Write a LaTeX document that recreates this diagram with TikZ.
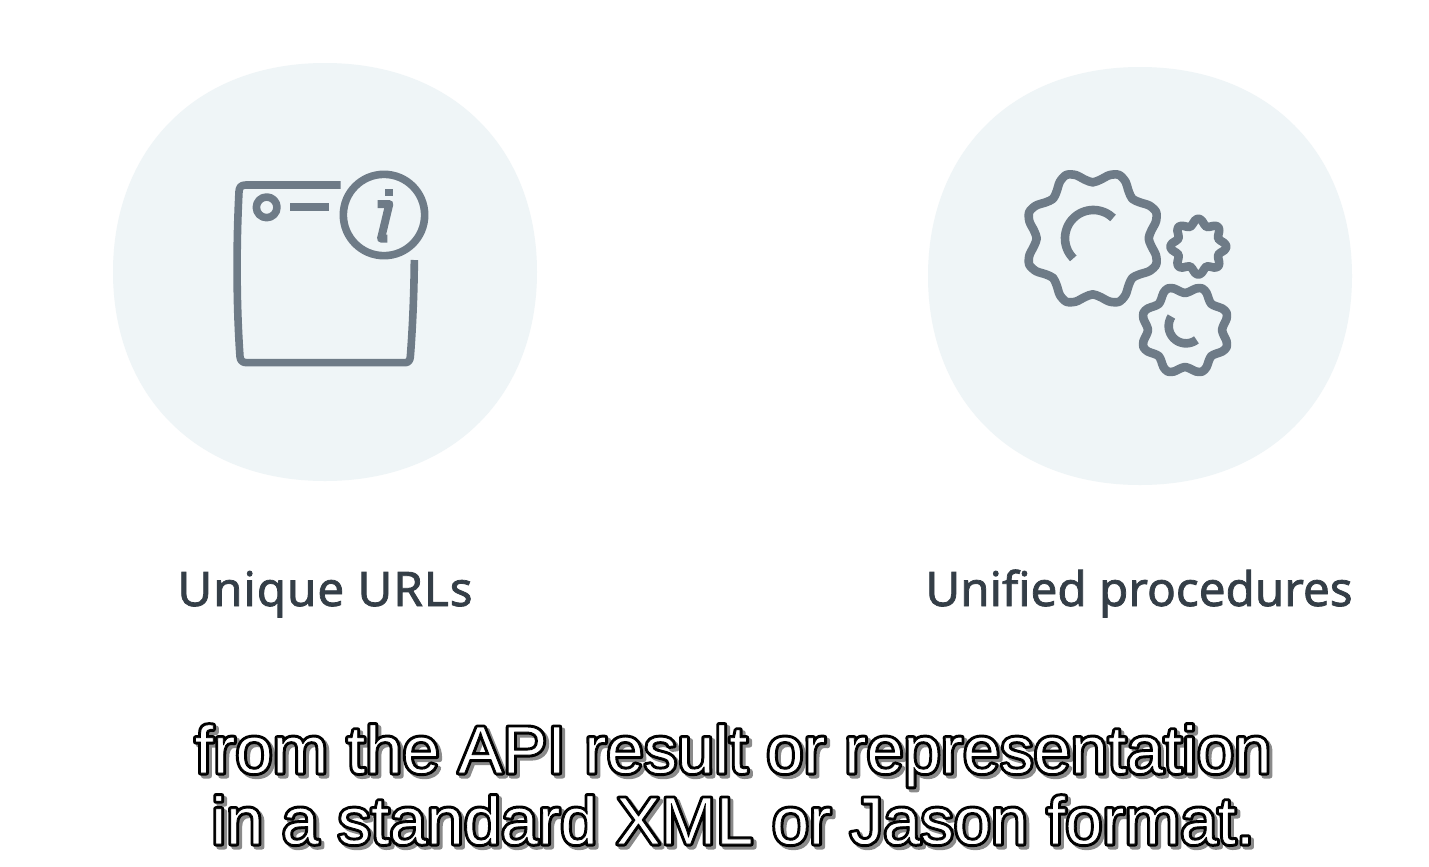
\documentclass[tikz,border=0pt]{standalone}
\usepackage{fontspec}
\setmainfont{Liberation Sans}
\newfontfamily\labelfont[FakeBold=1.6]{Noto Sans}
\newfontfamily\labelfontwide[FakeBold=1.6,LetterSpace=2]{Noto Sans}
\newfontfamily\subfontA[FakeBold=7.5]{Liberation Sans}
\newfontfamily\subfontB[FakeBold=1.2]{Liberation Sans}
\definecolor{blob}{HTML}{EFF5F7}
\definecolor{icon}{HTML}{6E7B87}
\definecolor{labelink}{HTML}{343E47}
\definecolor{shade}{HTML}{8A8A8A}
\tikzset{
  x=0.5pt,y=-0.5pt,
  blobshape/.style={fill=blob,draw=none},
  iconline/.style={draw=icon,line width=3.8pt,line join=round},
  gearline/.style={iconline,line width=4.3pt},
  labeltext/.style={font=\labelfont\fontsize{23.8}{26}\selectfont,text=labelink,anchor=base,inner sep=0pt},
  labelwide/.style={labeltext,font=\labelfontwide\fontsize{23.8}{26}\selectfont},
  subbase/.style={font=\subfontA\fontsize{33.4}{36}\selectfont,anchor=base,inner sep=0pt},
  subtop/.style={font=\subfontB\fontsize{33.4}{36}\selectfont,anchor=base,inner sep=0pt,text=white},
  subedge/.style={subbase,text=black},
  subshade/.style={subbase,text=shade},
  zoomA/.style={shift={(210,150)},x=0.166667pt,y=-0.166667pt},
  zoomB/.style={shift={(1000,150)},x=0.166667pt,y=-0.166667pt},
}
\newcommand{\blob}[2]{% centre x, y
  \fill[blobshape,shift={(#1,#2)}] (-212,0)
    .. controls (-212,-122) and (-130,-209) .. (0,-209)
    .. controls (130,-209) and (212,-122) .. (212,0)
    .. controls (212,122) and (130,209) .. (0,209)
    .. controls (-130,209) and (-212,122) .. (-212,0) -- cycle;}
\newcommand{\gear}[6]{% cx cy R a lobes phase
  \draw[gearline] plot[smooth cycle,domain=0:352.5,samples=48,variable=\t]
    ({#1+(#3+#4*cos(#5*\t-#6))*cos(\t)},{#2-(#3+#4*cos(#5*\t-#6))*sin(\t)});}
\newcommand{\roundtext}[1]{\special{pdf:code 1 j 1 J}#1}
\newcommand{\subtext}[1]{\special{pdf:code 1 j 1 J 0 G}#1}
\begin{document}
\begin{tikzpicture}
\useasboundingbox (0,0) rectangle (1429,867);
\fill[white] (0,0) rectangle (1429,867);
\blob{325}{272}
\blob{1140}{276}
\begin{scope}[zoomA]
  \draw[iconline] (392,105) -- (108,105) .. controls (92,105) and (88,112) .. (87,125)
    .. controls (78,300) and (80,480) .. (90,620)
    .. controls (91,632) and (98,638) .. (110,638) -- (585,638)
    .. controls (596,638) and (600,630) .. (601,620)
    .. controls (608,530) and (612,430) .. (613,330);
  \draw[iconline] (522,195) circle[radius=122];
  \draw[iconline] (170,172) circle[radius=31];
  \draw[iconline,line width=4pt] (240,172) -- (358,172);
  \draw[iconline,line width=4pt] (503,162) -- (538,162) -- (513,266) -- (532,266);
  \fill[icon] (526,118) rectangle (548,139);
\end{scope}
\begin{scope}[zoomB]
  \gear{278}{265}{187}{19}{8}{180}
  \gear{595}{290}{74}{10}{8}{0}
  \gear{555}{540}{123}{12}{8}{180}
  \draw[gearline] plot[smooth,domain=46:225,samples=20,variable=\t] ({280+85*cos(\t)},{265-85*sin(\t)});
  \draw[gearline] plot[smooth,domain=147:307,samples=20,variable=\t] ({558+52*cos(\t)},{528-52*sin(\t)});
\end{scope}
\node[labelwide] (urls) at (325,606) {Unique URLs};
\node[labeltext] (procs) at (1139,606) {Unified procedures};
\node[subshade] (s1a) at (736,776) {\roundtext{from the API result or representation}};
\node[subshade] (s2a) at (736,847) {\roundtext{in a standard XML or Jason format.}};
\node[subedge] (s1b) at (733,773) {\roundtext{from the API result or representation}};
\node[subedge] (s2b) at (733,844) {\roundtext{in a standard XML or Jason format.}};
\node[subtop] (s1) at (733,773) {\subtext{from the API result or representation}};
\node[subtop] (s2) at (733,844) {\subtext{in a standard XML or Jason format.}};
\end{tikzpicture}
\end{document}
